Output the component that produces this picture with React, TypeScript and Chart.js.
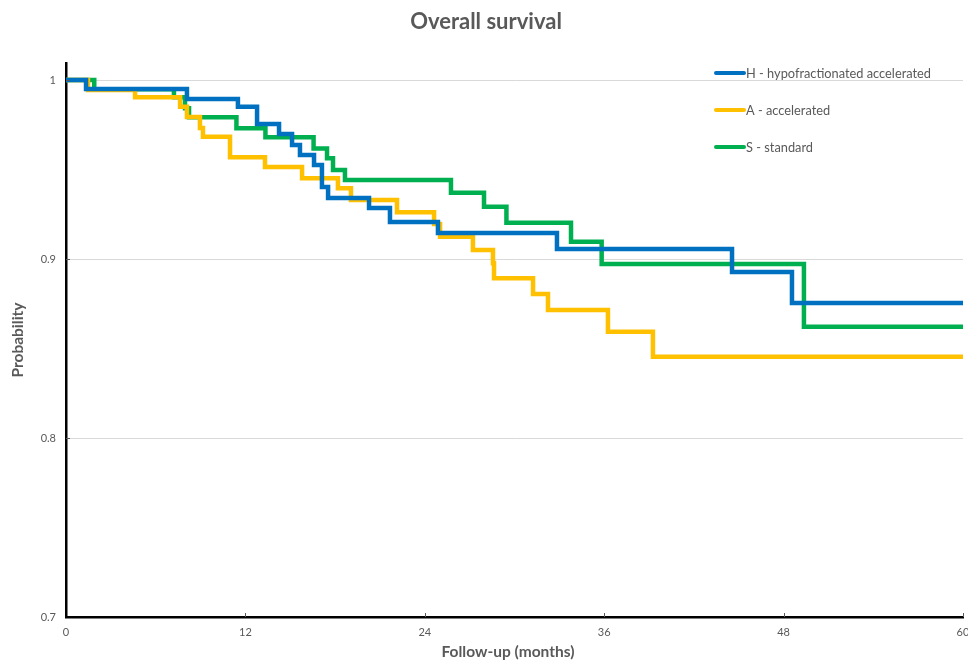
import React, { useEffect, useRef } from "react";
import { Chart, registerables } from "chart.js";

Chart.register(...registerables);

const chartTitle = "Overall survival";
const xTitle = "Follow-up (months)";
const yTitle = "Probability";
const xTicks = [0, 12, 24, 36, 48, 60];
const yTicks = [0.7, 0.8, 0.9, 1];

const seriesLabels = ["H - hypofractionated accelerated", "A - accelerated", "S - standard"];
const seriesColors = ["#0070c0", "#ffc000", "#00b050"];

// Kaplan-Meier steps: time (months) and survival after each event
const hTimes = [0, 1.34, 8.09, 11.5, 12.78, 14.25, 15.12, 15.65, 16.59, 17.12, 17.53, 20.27, 21.67, 24.88, 32.84, 44.55, 48.56, 60];
const hValues = [1, 0.995, 0.9894, 0.9851, 0.9754, 0.9698, 0.9637, 0.9581, 0.9525, 0.9402, 0.9341, 0.9285, 0.9207, 0.9145, 0.9056, 0.8927, 0.8754, 0.8754];

const aTimes = [0, 1.47, 4.62, 7.63, 8.09, 8.96, 9.16, 10.97, 13.31, 15.79, 18.19, 19.06, 22.14, 24.62, 25.02, 27.22, 28.56, 28.63, 31.24, 32.24, 36.25, 39.26, 60];
const aValues = [1, 0.9944, 0.9903, 0.9851, 0.9793, 0.9732, 0.9683, 0.9568, 0.9514, 0.9451, 0.9395, 0.933, 0.9261, 0.9196, 0.9125, 0.905, 0.8976, 0.8892, 0.8804, 0.8715, 0.8594, 0.8454, 0.8454];

const sTimes = [0, 1.89, 7.22, 7.96, 8.23, 11.4, 13.34, 16.56, 17.46, 17.86, 18.66, 25.75, 27.96, 29.46, 33.78, 35.83, 49.36, 60];
const sValues = [1, 0.9948, 0.9903, 0.9842, 0.9792, 0.973, 0.968, 0.9618, 0.9563, 0.9497, 0.9441, 0.937, 0.9292, 0.9203, 0.9097, 0.8972, 0.8622, 0.8622];

const FONT = "Lato, 'Open Sans', sans-serif";
const GRAY = "#595959";

const toPoints = (t: number[], v: number[]) => t.map((x, i) => ({ x, y: v[i] }));

const overlayPlugin = {
  id: "overlay",
  afterDraw(chart: any) {
    const ctx = chart.ctx;
    const xs = chart.scales.x;
    const ys = chart.scales.y;
    const area = chart.chartArea;
    ctx.save();
    // tick marks
    ctx.strokeStyle = "#595959";
    ctx.lineWidth = 1;
    xTicks.forEach((t) => {
      if (t === 0) return;
      const px = Math.round(xs.getPixelForValue(t)) + 0.5;
      ctx.beginPath();
      ctx.moveTo(px, area.bottom);
      ctx.lineTo(px, area.bottom - 4);
      ctx.stroke();
    });
    yTicks.forEach((v) => {
      if (v === 0.7) return;
      const py = Math.round(ys.getPixelForValue(v)) + 0.5;
      ctx.beginPath();
      ctx.moveTo(area.left, py);
      ctx.lineTo(area.left + 4, py);
      ctx.stroke();
    });
    // titles
    ctx.fillStyle = GRAY;
    ctx.textAlign = "center";
    ctx.textBaseline = "middle";
    ctx.font = `bold 22px ${FONT}`;
    ctx.fillText(chartTitle, 486, 22);
    ctx.font = `bold 15.5px ${FONT}`;
    ctx.fillText(xTitle, 508, 652);
    ctx.save();
    ctx.translate(18, 340);
    ctx.rotate(-Math.PI / 2);
    ctx.fillText(yTitle, 0, 0);
    ctx.restore();
    // legend
    ctx.textAlign = "left";
    ctx.font = `12.8px ${FONT}`;
    chart.data.datasets.forEach((ds: any, i: number) => {
      const y = 73 + i * 37;
      ctx.strokeStyle = ds.borderColor;
      ctx.lineWidth = 4;
      ctx.lineCap = "round";
      ctx.beginPath();
      ctx.moveTo(716, y);
      ctx.lineTo(744, y);
      ctx.stroke();
      ctx.fillStyle = GRAY;
      ctx.fillText(ds.label, 746, y + 0.5);
    });
    ctx.restore();
  },
};

export default function App() {
  const ref = useRef<HTMLCanvasElement | null>(null);
  useEffect(() => {
    if (!ref.current) return;
    const times = [hTimes, aTimes, sTimes];
    const vals = [hValues, aValues, sValues];
    const chart = new Chart(ref.current, {
      type: "line",
      data: {
        datasets: seriesLabels.map((label, i) => ({
          label,
          data: toPoints(times[i], vals[i]),
          borderColor: seriesColors[i],
          backgroundColor: seriesColors[i],
          borderWidth: 4.5,
          stepped: true,
          pointRadius: 0,
          fill: false,
        })),
      },
      options: {
        animation: false,
        responsive: false,
        maintainAspectRatio: false,
        layout: { padding: { top: 63, right: 5, left: 0, bottom: 0 } },
        plugins: {
          legend: { display: false },
          title: { display: false },
          tooltip: { enabled: false },
        },
        scales: {
          x: {
            type: "linear",
            min: 0,
            max: 60,
            afterBuildTicks: (s: any) => {
              s.ticks = xTicks.map((v) => ({ value: v }));
            },
            afterFit: (s: any) => {
              s.height = 46;
              s.paddingLeft = 0;
              s.paddingRight = 0;
            },
            ticks: { color: GRAY, font: { family: FONT, size: 11 }, padding: 9, maxRotation: 0 },
            grid: { display: false, drawTicks: false },
            border: { display: true, color: "#000", width: 2.5 },
          },
          y: {
            type: "linear",
            min: 0.7,
            max: 1.0095,
            afterBuildTicks: (s: any) => {
              s.ticks = yTicks.map((v) => ({ value: v }));
            },
            afterFit: (s: any) => {
              s.width = 66;
            },
            ticks: {
              color: GRAY,
              font: { family: FONT, size: 11 },
              padding: 10,
              callback: (v: any) => String(v),
            },
            grid: { color: "#d9d9d9", lineWidth: 1, drawTicks: false },
            border: { display: true, color: "#000", width: 2.5 },
          },
        },
      },
      plugins: [overlayPlugin],
    });
    return () => chart.destroy();
  }, []);
  return (
    <div style={{ position: "fixed", left: 0, top: 0, width: 968, height: 663, background: "#fff" }}>
      <canvas ref={ref} width={968} height={663} style={{ display: "block" }} />
    </div>
  );
}
